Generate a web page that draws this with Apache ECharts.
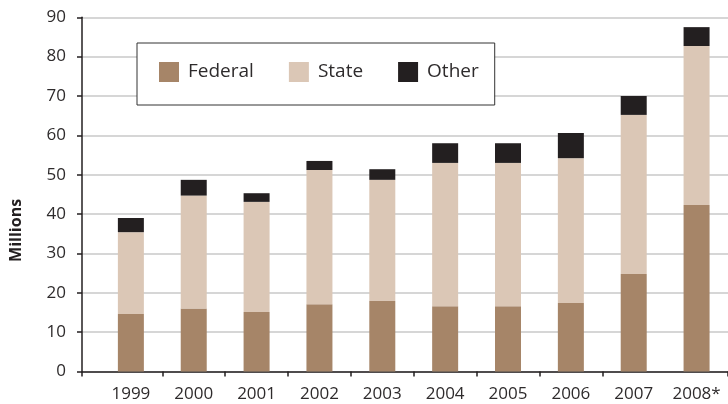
<!DOCTYPE html>
<html lang="en" style="height: 100%">

<head>
  <meta charset="utf-8">
</head>

<body style="height: 100%; margin: 0; background: #fff">
  <div id="container" style="height: 100%"></div>
  <script type="text/javascript" src="https://fastly.jsdelivr.net/npm/echarts@6.0.0/dist/echarts.min.js"></script>
  <script type="text/javascript">
    var dom = document.getElementById('container');
    var myChart = echarts.init(dom, null, { renderer: 'canvas' });

    // values in millions
    const years = ['1999', '2000', '2001', '2002', '2003', '2004', '2005', '2006', '2007', '2008*'];
    const federal = [14.6, 16.0, 15.1, 17.1, 17.9, 16.6, 16.6, 17.4, 24.8, 42.3];
    const state = [20.8, 28.7, 28.0, 34.1, 30.8, 36.4, 36.4, 36.8, 40.4, 40.4];
    const other = [3.6, 4.0, 2.2, 2.3, 2.7, 5.0, 5.0, 6.4, 4.8, 4.8];

    const font = 'Open Sans';
    const textColor = '#2e2b2c';

    var option = {
      animation: false,
      textStyle: { fontFamily: font },
      legend: {
        data: ['Federal', 'State', 'Other'],
        left: 137,
        top: 43,
        orient: 'horizontal',
        icon: 'rect',
        itemWidth: 20,
        itemHeight: 20,
        itemGap: 35,
        padding: [19, 16, 23, 22],
        borderWidth: 1,
        borderColor: '#333',
        backgroundColor: '#fff',
        textStyle: { fontFamily: font, fontSize: 19, color: textColor, padding: [0, 0, 0, 4] }
      },
      grid: [
        { left: 82, right: 0, top: 17.3, bottom: 32.5 },
        { left: 99.45, right: -2.5, top: 17.3, bottom: 32.5 }
      ],
      xAxis: [
        {
          type: 'value', gridIndex: 0, min: 0, max: 1, interval: 1,
          axisLine: { show: true, lineStyle: { color: '#231f20', width: 1.5 } },
          axisTick: { show: true, length: 5, lineStyle: { color: '#231f20', width: 1.5 } },
          axisLabel: { show: false },
          splitLine: { show: false }
        },
        {
          type: 'category', gridIndex: 1, data: years,
          axisLine: { show: false },
          axisTick: {
            show: true, length: 5, alignWithLabel: false,
            interval: function (index) { return index >= 1 && index <= 8; },
            lineStyle: { color: '#231f20', width: 1.5 }
          },
          axisLabel: { fontFamily: font, fontSize: 17, color: textColor, margin: 14 }
        }
      ],
      yAxis: [
        {
          type: 'value', gridIndex: 0, min: 0, max: 90, interval: 10,
          name: 'Millions',
          nameLocation: 'middle',
          nameGap: 58,
          nameTextStyle: { fontFamily: font, fontSize: 16, fontWeight: 'bold', color: '#231f20', padding: [0, 72, 0, 0] },
          axisLine: { show: true, lineStyle: { color: '#231f20', width: 1.5 } },
          axisTick: { show: true, length: 5, lineStyle: { color: '#231f20', width: 1.5 } },
          axisLabel: { fontFamily: font, fontSize: 17, color: textColor, margin: 16 },
          splitLine: { show: true, lineStyle: { color: '#c8c8c8', width: 1.5 } }
        },
        {
          type: 'value', gridIndex: 1, min: 0, max: 90, interval: 10, show: false
        }
      ],
      series: [
        { name: 'Federal', type: 'bar', stack: 'total', xAxisIndex: 1, yAxisIndex: 1, barWidth: 26, itemStyle: { color: '#a68568' }, data: federal },
        { name: 'State', type: 'bar', stack: 'total', xAxisIndex: 1, yAxisIndex: 1, barWidth: 26, itemStyle: { color: '#dbc7b6' }, data: state },
        { name: 'Other', type: 'bar', stack: 'total', xAxisIndex: 1, yAxisIndex: 1, barWidth: 26, itemStyle: { color: '#231f20' }, data: other }
      ]
    };

    myChart.setOption(option);
    window.addEventListener('resize', myChart.resize);
  </script>
</body>

</html>
